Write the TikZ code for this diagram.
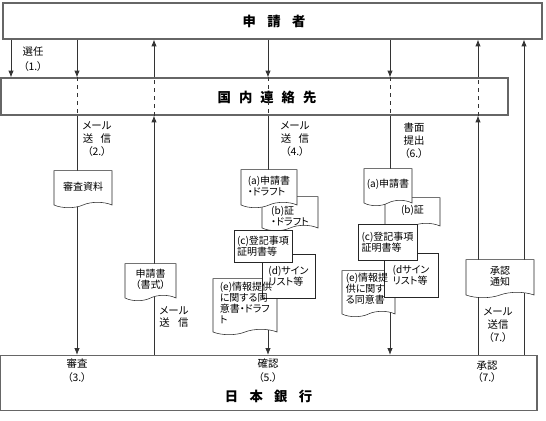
\documentclass[tikz,border=0pt]{standalone}
\usepackage{fontspec}
\setmainfont{Noto Sans CJK JP}[RawFeature=+palt]
\usetikzlibrary{shapes.symbols, arrows.meta}
\tikzstyle{bank} = [rectangle, 
draw=black!60, 
line width=0.9pt, 
inner sep=0pt]
\tikzstyle{titletext} = [font=\fontsize{10}{12}\selectfont\bfseries, inner sep=0pt]
\tikzstyle{doc} = [tape, 
tape bend top=none, 
tape bend height=4pt, 
draw=black!85, fill=white, 
inner sep=1pt, 
font=\fontsize{7.5}{8.3}\selectfont]
\tikzstyle{sheet} = [rectangle, 
draw=black!85, fill=white, 
inner sep=1pt, 
font=\fontsize{7.5}{8.3}\selectfont]
\tikzstyle{doctext} = [font=\fontsize{7.5}{8.3}\selectfont, align=left, inner sep=0pt]
\tikzstyle{lbl} = [font=\fontsize{7.8}{10}\selectfont, align=center, inner sep=0pt]
\tikzstyle{link} = [line width=0.6pt, draw=black!80]
\tikzstyle{arrow} = [link, ->, >={Latex[length=5pt,width=4pt]}]

\begin{document}
\begin{tikzpicture}[x=0.75pt, y=-0.75pt]
		\useasboundingbox (0,0) rectangle (546,421);
		
		\node (applicant) [bank, minimum width=404.25pt, minimum height=27pt] at (272.5,21) {};
		\node (applicantText) [titletext] at (274,21) {申\hspace{.85em}請\hspace{.85em}者};
		\node (contact) [bank, minimum width=380.25pt, minimum height=27.75pt] at (254.5,96.5) {};
		\node (contactText) [titletext] at (267,97) {国\hspace{.6em}内\hspace{.6em}連\hspace{.6em}絡\hspace{.6em}先};
		\node (boj) [bank, minimum width=402.75pt, minimum height=41.25pt] at (268.5,383) {};
		\node (bojText) [titletext] at (268.5,396) {日\hspace{.85em}本\hspace{.85em}銀\hspace{.85em}行};
		
		% columns
		\coordinate (c0) at (11,0);
		\coordinate (c1) at (77,0);
		\coordinate (c2) at (154,0);
		\coordinate (c3) at (268,0);
		\coordinate (c4) at (390,0);
		\coordinate (c5) at (478,0);
		\coordinate (c6) at (524,0);
		
		\draw [arrow] (c0 |- applicant.south) -- (c0 |- contact.north);
		\foreach \c in {c1,c3,c4} {
			\draw [arrow] (\c |- applicant.south) -- (\c |- contact.north);
			\draw [link, dashed] (\c |- contact.north) -- (\c |- contact.south);
			\draw [arrow] (\c |- contact.south) -- (\c |- boj.north);
		}
		\foreach \c in {c2,c5} {
			\draw [arrow] (\c |- boj.north) -- (\c |- contact.south);
			\draw [link, dashed] (\c |- contact.south) -- (\c |- contact.north);
			\draw [arrow] (\c |- contact.north) -- (\c |- applicant.south);
		}
		\draw [arrow] (c6 |- boj.north) -- (c6 |- applicant.south);
		
		% documents
		\node (review) [doc, minimum width=43.5pt, minimum height=27.75pt] at (83,186.5) {審査資料};
		\node (form) [doc, minimum width=38.25pt, minimum height=27.75pt, align=center] at (150.5,279.5) {申請書\\（書式）};
		\node (notice) [doc, minimum width=51pt, minimum height=28.5pt, align=center] at (500,276) {承認\\通知};
		
		\node (info1) [doc, minimum width=48pt, minimum height=42pt] at (245,304) {};
		\node (sign1) [sheet, minimum width=39.75pt, minimum height=33pt, align=left] at (288.5,276) {(d)サイン\\リスト等};
		\node (info1Text) [doctext] at (246,303) {(e)情報提供\\に関する同\\意書・ドラフ\\ト};
		\node (cert1) [doc, minimum width=42pt, minimum height=25.5pt, label={[doctext, yshift=-4pt]center:{(b)証\\・ドラフト}}] at (290,211) {};
		\node (reg1) [sheet, minimum width=43.5pt, minimum height=24pt, align=left] at (263,246) {(c)登記事項\\証明書等};
		\node (app1) [doc, minimum width=42pt, minimum height=28.5pt, align=left] at (269,186) {(a)申請書\\・ドラフト};
		
		\node (info2) [doc, minimum width=39.75pt, minimum height=34.5pt] at (368.5,291) {};
		\node (sign2) [sheet, minimum width=40.5pt, minimum height=33pt, align=left] at (411,275) {(dサイン\\リスト等};
		\node (info2Text) [doctext] at (367,289) {(e)情報提\\供に関す\\る同意書};
		\node (cert2) [doc, minimum width=41.25pt, minimum height=23.25pt] at (412.5,210.5) {(b)証};
		\node (reg2) [sheet, minimum width=44.25pt, minimum height=27pt, align=left] at (387.5,242) {(c)登記事項\\証明書等};
		\node (app2) [doc, minimum width=36pt, minimum height=27.75pt] at (388,184.5) {(a)申請書};
		
		% labels
		\node (elect) [lbl, font=\fontsize{7.8}{11.25}\selectfont] at (33,59.5) {選任\\（1.）};
		\node (mail2) [lbl] at (97,139) {メール\\送\hspace{.7em}信\\（2.）};
		\node (mail4) [lbl] at (295,139) {メール\\送\hspace{.7em}信\\（4.）};
		\node (paper6) [lbl] at (414,140.5) {書面\\提出\\（6.）};
		\node (mailForm) [lbl, font=\fontsize{7.8}{9}\selectfont] at (174,317) {メール\\送\hspace{.8em}信};
		\node (mail7) [lbl] at (498,325) {メール\\送信\\（7.）};
		\node (check3) [lbl] at (77,370.5) {審査\\（3.）};
		\node (check5) [lbl] at (268,370.5) {確認\\（5.）};
		\node (approve7) [lbl, font=\fontsize{7.8}{9}\selectfont] at (487,372) {承認\\（7.）};
		
	\end{tikzpicture}
\end{document}
